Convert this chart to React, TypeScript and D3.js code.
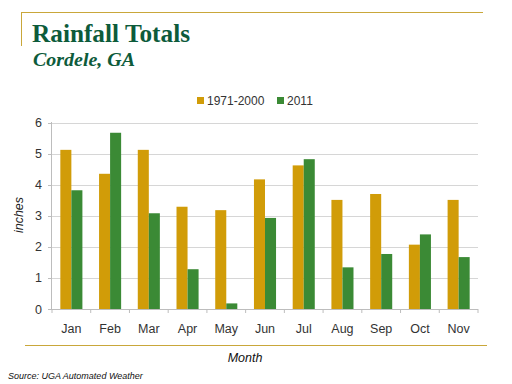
import * as React from "react";
import * as d3 from "d3";

const months = ["Jan", "Feb", "Mar", "Apr", "May", "Jun", "Jul", "Aug", "Sep", "Oct", "Nov"];
const normals = [5.12, 4.35, 5.12, 3.29, 3.18, 4.17, 4.62, 3.51, 3.7, 2.07, 3.51];
const year2011 = [3.82, 5.67, 3.08, 1.28, 0.18, 2.93, 4.82, 1.34, 1.77, 2.4, 1.67];
const seriesNames = ["1971-2000", "2011"];
const yTicks = [0, 1, 2, 3, 4, 5, 6];

const gold = "#D19C08";
const green = "#3B8A35";
const titleGreen = "#0D5B3B";
const rule = "#C9A73A";
const axisFont = "'Liberation Sans', Arial, sans-serif";

export default function App() {
  const width = 512;
  const height = 384;

  const x = d3.scaleBand().domain(months).range([52, 478]).paddingInner(0.43).paddingOuter(0.215);
  const inner = d3.scaleBand().domain(seriesNames).range([0, x.bandwidth()]);
  const y = d3.scaleLinear().domain([0, 6]).range([309, 122.5]);
  const step = x.step();
  const first = x(months[0]) - x.paddingOuter() * step;
  const boundaries = d3.range(months.length + 1).map(i => first + i * step);

  const series = [normals, year2011];
  const colors = [gold, green];

  return (
    <svg width={width} height={height} style={{ position: "absolute", left: 0, top: 0, background: "#fff" }}>
      <line x1={21} x2={483} y1={12.5} y2={12.5} stroke={rule} strokeWidth={1} />
      <line x1={21.5} x2={21.5} y1={12} y2={46} stroke={rule} strokeWidth={1} />
      <text x={32} y={42} fill={titleGreen} fontFamily="'Liberation Serif', 'DejaVu Serif', serif" fontWeight="bold" fontSize={25} textLength={158} lengthAdjust="spacingAndGlyphs">Rainfall Totals</text>
      <text x={33} y={66} fill={titleGreen} fontFamily="'Liberation Serif', 'DejaVu Serif', serif" fontWeight="bold" fontStyle="italic" fontSize={18} textLength={102} lengthAdjust="spacingAndGlyphs">Cordele, GA</text>

      {/* legend */}
      {seriesNames.map((s, i) => {
        const lx = [197, 277][i];
        return (
          <g key={s}>
            <rect x={lx} y={97} width={7} height={7} fill={colors[i]} />
            <text x={lx + 10} y={105} fontFamily={axisFont} fontSize={12} fill="#333">{s}</text>
          </g>
        );
      })}

      {/* gridlines */}
      {yTicks.filter(t => t > 0).map(t => (
        <line key={t} x1={52} x2={478} y1={Math.round(y(t)) + 0.5} y2={Math.round(y(t)) + 0.5} stroke="#D6D6D6" />
      ))}
      {yTicks.map(t => (
        <g key={"t" + t}>
          <line x1={48} x2={52} y1={Math.round(y(t)) + 0.5} y2={Math.round(y(t)) + 0.5} stroke="#BDBDBD" />
          <text x={42} y={y(t) + 4.5} textAnchor="end" fontFamily={axisFont} fontSize={12.5} fill="#333">{t}</text>
        </g>
      ))}
      <line x1={51.5} x2={51.5} y1={122} y2={309} stroke="#BDBDBD" />

      {/* bars */}
      {series.map((vals, si) => (
        <g key={si} fill={colors[si]}>
          {vals.map((v, i) => (
            <rect key={i} x={x(months[i]) + inner(seriesNames[si])} y={y(v)} width={inner.bandwidth()} height={y(0) - y(v)} />
          ))}
        </g>
      ))}

      <line x1={51} x2={478} y1={309.5} y2={309.5} stroke="#BDBDBD" />
      {boundaries.map((b, i) => (
        <line key={i} x1={b} x2={b} y1={309} y2={313} stroke="#BDBDBD" />
      ))}
      {months.map(m => (
        <text key={m} x={x(m) + x.bandwidth() / 2} y={333} textAnchor="middle" fontFamily={axisFont} fontSize={12.5} fill="#333">{m}</text>
      ))}

      <text transform="translate(23,215) rotate(-90)" textAnchor="middle" fontFamily={axisFont} fontStyle="italic" fontSize={12.5} fill="#222">inches</text>

      <line x1={25} x2={487} y1={345.5} y2={345.5} stroke={rule} strokeWidth={1} />
      <text x={245} y={362} textAnchor="middle" fontFamily={axisFont} fontStyle="italic" fontSize={12.5} fill="#111">Month</text>
      <text x={8} y={379} fontFamily={axisFont} fontStyle="italic" fontSize={9} fill="#111">Source:  UGA Automated Weather</text>
    </svg>
  );
}
